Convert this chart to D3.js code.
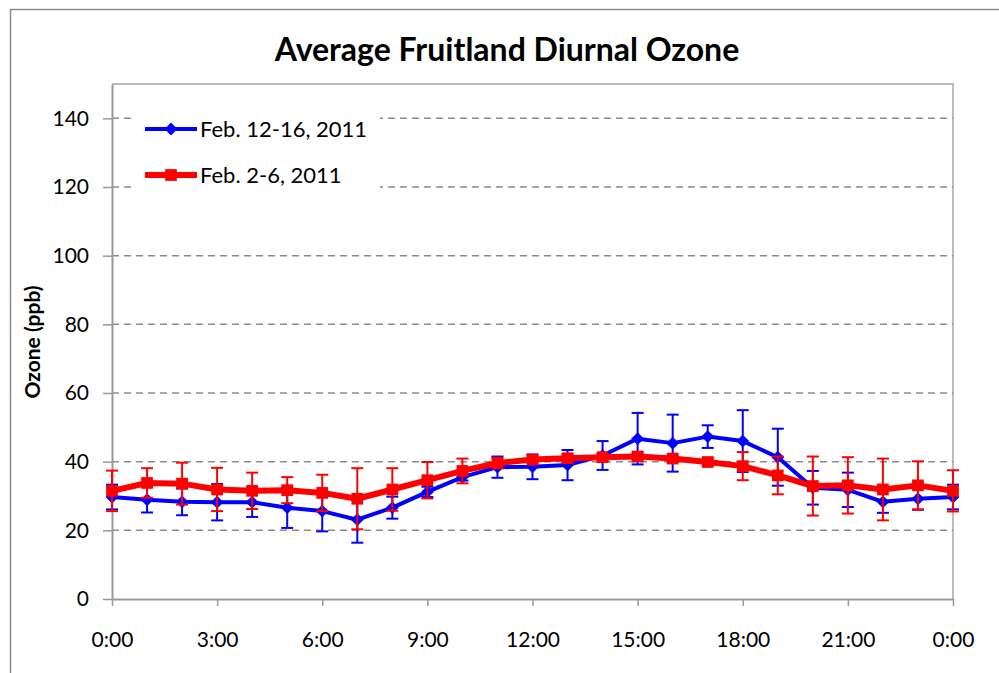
<!DOCTYPE html>
<html>
<head>
<meta charset="utf-8">
<script src="https://cdn.jsdelivr.net/npm/d3@7"></script>
<style>
  body { margin: 0; background: #fff; }
  text { font-family: Lato, "Open Sans", sans-serif; fill: #000; }
</style>
</head>
<body>
<div id="chart"></div>
<script>
// hourly averages, 0:00 .. 24:00
var hours = d3.range(0, 25);
var blueMean = [29.7, 28.9, 28.3, 28.2, 28.2, 26.6, 25.6, 23.1, 26.6, 31.2, 35.5, 38.4, 38.5,
                39.0, 41.8, 46.7, 45.4, 47.3, 46.0, 41.3, 32.4, 31.8, 28.3, 29.2, 29.7];
var blueErr  = [3.6, 3.7, 3.9, 5.3, 4.3, 5.9, 5.9, 6.7, 3.2, 1.5, 1.0, 3.1, 3.6,
                4.4, 4.2, 7.5, 8.3, 3.3, 9.0, 8.3, 4.9, 5.0, 3.2, 3.2, 3.6];
var redMean  = [31.5, 33.8, 33.6, 31.9, 31.5, 31.7, 30.9, 29.2, 31.9, 34.6, 37.3, 39.6, 40.6,
                41.0, 41.3, 41.5, 40.9, 39.9, 38.7, 36.0, 32.9, 33.1, 31.9, 33.1, 31.5];
var redErr   = [5.9, 4.3, 6.1, 6.3, 5.3, 3.8, 5.3, 8.9, 6.2, 5.3, 3.6, 1.5, 1.0,
                1.2, 1.0, 1.2, 1.0, 1.0, 4.1, 5.5, 8.6, 8.2, 9.0, 7.0, 6.0];
var yTicks = [0, 20, 40, 60, 80, 100, 120, 140];
var xTicks = [0, 3, 6, 9, 12, 15, 18, 21, 24];
var seriesNames = ["Feb. 12-16, 2011", "Feb. 2-6, 2011"];

var width = 999, height = 673;
var plotLeft = 112, plotRight = 953, plotTop = 84, plotBottom = 599;

var svg = d3.select('#chart').append('svg')
  .attr('width', width)
  .attr('height', height);

// outer chart frame
svg.append('rect')
  .attr('x', 10.5).attr('y', 9.5)
  .attr('width', 1100).attr('height', 800)
  .attr('fill', 'none').attr('stroke', '#8c8c8c').attr('stroke-width', 1.5);

var x = d3.scaleLinear().domain([0, 24]).range([plotLeft, plotRight]);
var y = d3.scaleLinear().domain([0, 150]).range([plotBottom, plotTop]);

// plot area border (top/right)
svg.append('path')
  .attr('d', 'M' + plotLeft + ',' + plotTop + 'H' + plotRight + 'V' + plotBottom)
  .attr('fill', 'none').attr('stroke', '#a6a6a6').attr('stroke-width', 1.5);

// gridlines
svg.append('g').selectAll('line')
  .data(yTicks.filter(function(d) { return d > 0; }))
  .join('line')
  .attr('x1', plotLeft).attr('x2', plotRight)
  .attr('y1', function(d) { return y(d); })
  .attr('y2', function(d) { return y(d); })
  .attr('stroke', '#8c8c8c').attr('stroke-width', 1.5)
  .attr('stroke-dasharray', '7,5');

// axes
var yAxis = svg.append('g')
  .attr('transform', 'translate(' + plotLeft + ',0)')
  .call(d3.axisLeft(y).tickValues(yTicks).tickSize(9).tickPadding(14).tickSizeOuter(0));
var xAxis = svg.append('g')
  .attr('transform', 'translate(0,' + plotBottom + ')')
  .call(d3.axisBottom(x).tickValues(xTicks).tickSize(7).tickPadding(24).tickSizeOuter(0)
    .tickFormat(function(d) { return (d % 24) + ':00'; }));

[yAxis, xAxis].forEach(function(ax) {
  ax.select('.domain').attr('stroke', '#999').attr('stroke-width', 2);
  ax.selectAll('.tick line').attr('stroke', '#999').attr('stroke-width', 1.5);
  ax.selectAll('.tick text')
    .style('font-family', 'Lato, sans-serif')
    .style('font-size', '21px')
    .attr('fill', '#000');
});
xAxis.selectAll('.tick text').attr('dy', null).attr('y', 48);

// title and axis label
svg.append('text')
  .attr('x', 507).attr('y', 61)
  .attr('text-anchor', 'middle')
  .style('font-size', '32px').style('font-weight', 'bold')
  .text('Average Fruitland Diurnal Ozone');

svg.append('text')
  .attr('transform', 'translate(40,342) rotate(-90)')
  .attr('text-anchor', 'middle')
  .style('font-size', '21px').style('font-weight', 'bold')
  .text('Ozone (ppb)');

function drawSeries(mean, err, color, lineW, marker) {
  var g = svg.append('g');
  var pts = hours.map(function(h, i) { return { h: h, v: mean[i], e: err[i] }; });

  // error bars
  var eb = g.append('g').selectAll('g').data(pts).join('g')
    .attr('stroke', color).attr('stroke-width', 2);
  eb.append('line')
    .attr('x1', function(d) { return x(d.h); }).attr('x2', function(d) { return x(d.h); })
    .attr('y1', function(d) { return y(d.v - d.e); }).attr('y2', function(d) { return y(d.v + d.e); });
  eb.append('line')
    .attr('x1', function(d) { return x(d.h) - 6; }).attr('x2', function(d) { return x(d.h) + 6; })
    .attr('y1', function(d) { return y(d.v + d.e); }).attr('y2', function(d) { return y(d.v + d.e); });
  eb.append('line')
    .attr('x1', function(d) { return x(d.h) - 6; }).attr('x2', function(d) { return x(d.h) + 6; })
    .attr('y1', function(d) { return y(d.v - d.e); }).attr('y2', function(d) { return y(d.v - d.e); });

  g.append('path')
    .datum(pts)
    .attr('fill', 'none').attr('stroke', color).attr('stroke-width', lineW)
    .attr('stroke-linejoin', 'round')
    .attr('d', d3.line().x(function(d) { return x(d.h); }).y(function(d) { return y(d.v); }));

  g.selectAll('path.m').data(pts).join('path')
    .attr('class', 'm')
    .attr('transform', function(d) { return 'translate(' + x(d.h) + ',' + y(d.v) + ')'; })
    .attr('d', marker)
    .attr('fill', color);
}

var diamond = d3.symbol().type(d3.symbolDiamond2).size(105)();
var square = d3.symbol().type(d3.symbolSquare2).size(175)();

drawSeries(blueMean, blueErr, '#0000ff', 4, diamond);
drawSeries(redMean, redErr, '#ff0000', 6, square);

// legend
var legend = svg.append('g');
legend.append('rect')
  .attr('x', 133).attr('y', 104).attr('width', 247).attr('height', 92)
  .attr('fill', '#fff');
var items = [
  { name: seriesNames[0], color: '#0000ff', w: 4, marker: diamond, y: 129 },
  { name: seriesNames[1], color: '#ff0000', w: 6, marker: square, y: 175 }
];
items.forEach(function(it) {
  legend.append('line')
    .attr('x1', 145).attr('x2', 197).attr('y1', it.y).attr('y2', it.y)
    .attr('stroke', it.color).attr('stroke-width', it.w);
  legend.append('path')
    .attr('transform', 'translate(171,' + it.y + ')')
    .attr('d', it.marker).attr('fill', it.color);
  legend.append('text')
    .attr('x', 200).attr('y', it.y).attr('dy', '0.37em')
    .style('font-size', '22px')
    .text(it.name);
});
</script>
</body>
</html>
